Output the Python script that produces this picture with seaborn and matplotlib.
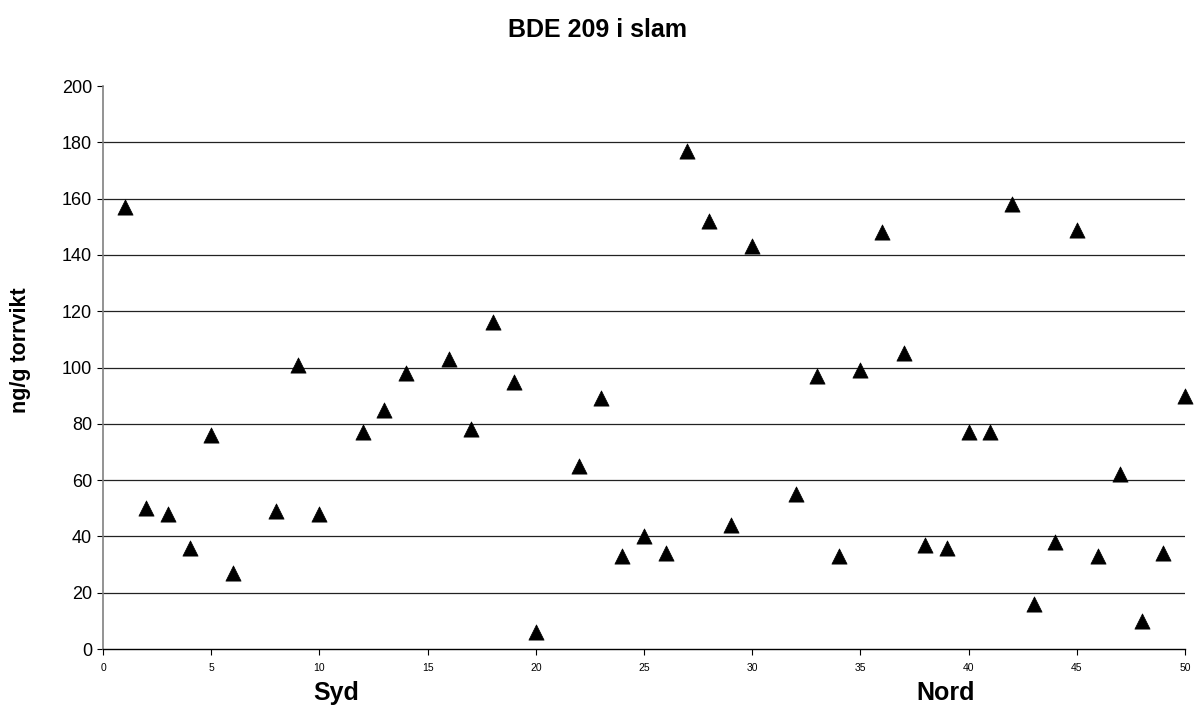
import matplotlib
matplotlib.use("Agg")
import matplotlib.pyplot as plt
import seaborn as sns
import pandas as pd

# Sample sites (numbered south to north) and BDE 209 concentrations
site = [1, 2, 3, 4, 5, 6, 8, 9, 10, 12, 13, 14, 16, 17, 18, 19, 20,
        22, 23, 24, 25, 26, 27, 28, 29, 30, 32, 33, 34, 35, 36, 37, 38,
        39, 40, 41, 42, 43, 44, 45, 46, 47, 48, 49, 50]
bde209 = [157, 50, 48, 36, 76, 27, 49, 101, 48, 77, 85, 98, 103, 78, 116, 95, 6,
          65, 89, 33, 40, 34, 177, 152, 44, 143, 55, 97, 33, 99, 148, 105, 37,
          36, 77, 77, 158, 16, 38, 149, 33, 62, 10, 34, 90]

y_ticks = [0, 20, 40, 60, 80, 100, 120, 140, 160, 180, 200]
x_ticks = [0, 5, 10, 15, 20, 25, 30, 35, 40, 45, 50]

df = pd.DataFrame({"site": site, "bde209": bde209})

sns.set_style("white")
plt.rcParams["font.family"] = ["Liberation Sans", "DejaVu Sans"]
plt.rcParams["text.color"] = "black"
plt.rcParams["axes.labelcolor"] = "black"
plt.rcParams["xtick.color"] = "black"
plt.rcParams["ytick.color"] = "black"

fig = plt.figure(figsize=(11.94, 7.11), dpi=100)
ax = fig.add_axes([0.0863, 0.0872, 0.9062, 0.7918])

for v in y_ticks[1:-1]:
    ax.axhline(v, color="#222222", lw=0.9, zorder=0)

sns.scatterplot(data=df, x="site", y="bde209", marker="^", s=120,
                color="black", edgecolor="black", linewidth=0.5, ax=ax,
                zorder=3, clip_on=False)

ax.set_xlim(0, 50)
ax.set_ylim(0, 200)
ax.set_xticks(x_ticks)
ax.set_yticks(y_ticks)
ax.tick_params(axis="x", labelsize=7.5, direction="out", length=4, width=0.8,
               bottom=True, pad=6)
ax.tick_params(axis="y", labelsize=13, direction="out", length=4, width=0.8,
               left=True, pad=4)

ax.spines["top"].set_visible(False)
ax.spines["right"].set_visible(False)
ax.spines["left"].set_color("#808080")
ax.spines["left"].set_linewidth(1.2)
ax.spines["bottom"].set_color("black")
ax.spines["bottom"].set_linewidth(1.0)

ax.set_xlabel("")
ax.set_ylabel("")
fig.text(0.0168, 0.508, "ng/g torrvikt", ha="center", va="center",
         rotation=90, fontsize=15.5, fontweight="bold")
fig.text(0.5, 0.958, "BDE 209 i slam", ha="center", va="center",
         fontsize=18, fontweight="bold")
fig.text(0.282, 0.025, "Syd", ha="center", va="center",
         fontsize=18, fontweight="bold")
fig.text(0.792, 0.025, "Nord", ha="center", va="center",
         fontsize=18, fontweight="bold")

fig.savefig("out.png", dpi=100)
